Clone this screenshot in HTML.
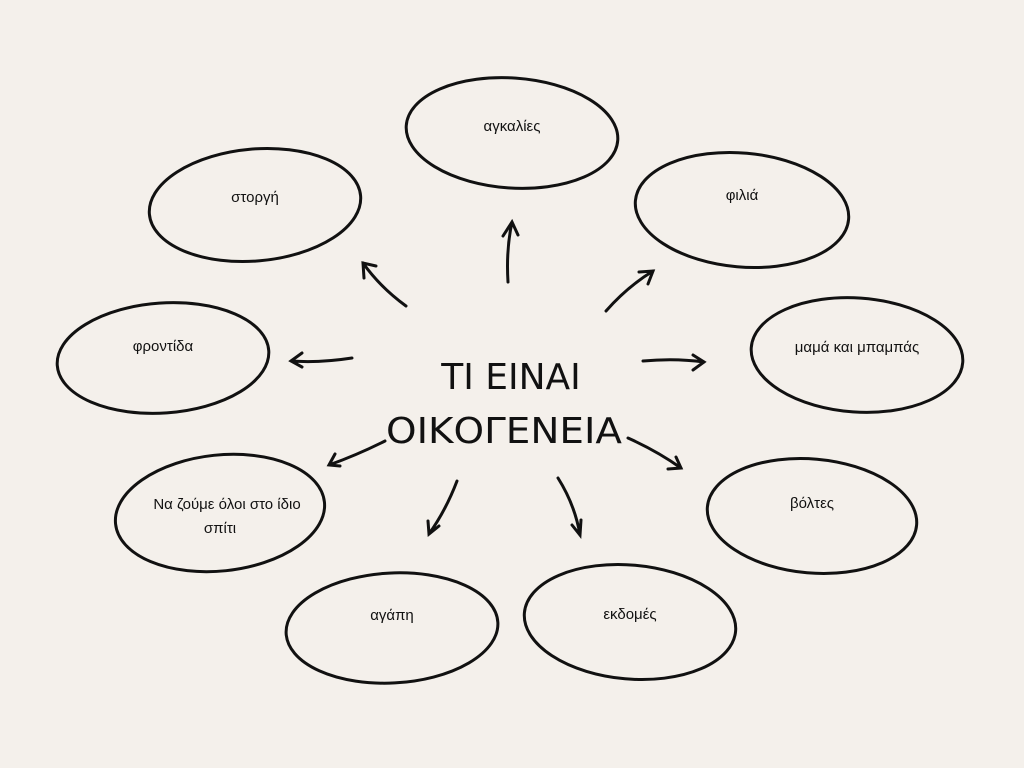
<!DOCTYPE html>
<html><head><meta charset="utf-8"><style>
html,body{margin:0;padding:0;background:#f4f0eb;}
svg{display:block}
text{font-family:"Liberation Sans","DejaVu Sans",sans-serif;fill:#111;}
</style></head><body>
<svg width="1024" height="768" viewBox="0 0 1024 768">
<rect width="1024" height="768" fill="#f4f0eb"/>
<g fill="none" stroke="#111" stroke-width="3" stroke-linecap="round">
<ellipse cx="512" cy="133" rx="106" ry="55" transform="rotate(4 512 133)"/>
<ellipse cx="255" cy="205" rx="106" ry="56" transform="rotate(-5 255 205)"/>
<ellipse cx="742" cy="210" rx="107" ry="57" transform="rotate(5 742 210)"/>
<ellipse cx="163" cy="358" rx="106" ry="55" transform="rotate(-4 163 358)"/>
<ellipse cx="857" cy="355" rx="106" ry="57" transform="rotate(4 857 355)"/>
<ellipse cx="220" cy="513" rx="105" ry="58" transform="rotate(-6 220 513)"/>
<ellipse cx="812" cy="516" rx="105" ry="57" transform="rotate(5 812 516)"/>
<ellipse cx="392" cy="628" rx="106" ry="55" transform="rotate(-3 392 628)"/>
<ellipse cx="630" cy="622" rx="106" ry="57" transform="rotate(5 630 622)"/>
<path d="M508 282 Q506 250 512 222 M503 236 L512 222 L518 235"/>
<path d="M406 306 Q380 287 363 263 M364 278 L363 263 L376 266"/>
<path d="M606 311 Q627 287 653 271 M639 272 L653 271 L648 284"/>
<path d="M352 358 Q320 363 291 361 M302 353 L291 361 L302 367"/>
<path d="M643 361 Q675 358 704 362 M693 355 L704 362 L693 370"/>
<path d="M385 441 Q357 455 329 465 M335 454 L329 465 L340 466"/>
<path d="M628 438 Q657 451 681 468 M676 457 L681 468 L668 469"/>
<path d="M457 481 Q446 510 429 534 M428 521 L429 534 L439 526"/>
<path d="M558 478 Q575 505 580 535 M572 525 L580 535 L581 520"/>
</g>
<g font-size="15" text-anchor="middle">
<text x="512" y="131">αγκαλίες</text>
<text x="255" y="202">στοργή</text>
<text x="742" y="200">φιλιά</text>
<text x="163" y="351">φροντίδα</text>
<text x="857" y="352">μαμά και μπαμπάς</text>
<text x="227" y="509">Να ζούμε όλοι στο ίδιο</text>
<text x="220" y="533">σπίτι</text>
<text x="812" y="508">βόλτες</text>
<text x="392" y="620">αγάπη</text>
<text x="630" y="619">εκδομές</text>
</g>
<g font-size="36" text-anchor="middle" style="font-family:'DejaVu Sans',sans-serif">
<text x="511" y="389" style="font-family:'DejaVu Sans',sans-serif">ΤΙ ΕΙΝΑΙ</text>
<text x="504" y="443" style="font-family:'DejaVu Sans',sans-serif" textLength="236" lengthAdjust="spacingAndGlyphs">ΟΙΚΟΓΕΝΕΙΑ</text>
</g>
</svg>
</body></html>
